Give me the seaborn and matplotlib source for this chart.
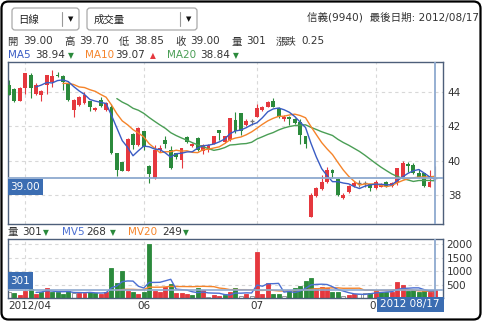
import numpy as np
import pandas as pd
import matplotlib
matplotlib.use("Agg")
import matplotlib.pyplot as plt
import seaborn as sns
from matplotlib.patches import FancyBboxPatch, Rectangle
from matplotlib.transforms import IdentityTransform
from matplotlib.lines import Line2D

# ---------------- data ----------------
opens = [44.40, 44.15, 43.50, 44.20, 45.00, 43.90, 43.80, 44.40, 44.55, 45.00,
         44.95, 44.50, 42.95, 43.25, 43.35, 43.45, 42.95, 43.55, 42.95, 43.15,
         40.43, 39.95, 39.40, 41.55, 40.90, 41.70, 39.70, 38.98, 40.60, 41.20,
         40.62, 40.43, 40.05, 41.40, 40.85, 41.30, 40.58, 40.60, 41.00, 41.80,
         41.10, 41.20, 42.36, 42.75, 42.07, 42.30, 42.56, 42.95, 43.15, 43.45,
         43.05, 42.40, 42.55, 42.45, 42.27, 41.44, 36.75, 37.95, 38.34, 38.74,
         39.46, 38.94, 37.85, 38.20, 38.53, 38.68, 38.68, 38.63, 38.40, 38.50,
         38.74, 38.55, 38.68, 39.07, 39.80, 39.75, 39.27, 39.27, 38.50, 39.00]
closes = [43.85, 43.50, 44.25, 45.10, 44.20, 44.40, 44.05, 45.00, 44.95, 44.90,
          44.60, 43.55, 43.55, 43.70, 43.85, 43.15, 43.08, 43.20, 43.35, 40.43,
          39.46, 39.40, 41.25, 40.90, 41.90, 40.80, 39.20, 40.60, 40.72, 40.95,
          39.55, 40.23, 40.72, 41.10, 41.00, 40.62, 40.90, 40.90, 41.43, 41.63,
          41.43, 42.47, 41.70, 41.70, 42.30, 42.30, 43.05, 43.15, 43.43, 43.13,
          42.56, 42.56, 42.40, 42.20, 41.50, 41.00, 38.00, 38.40, 38.78, 39.46,
          39.27, 38.00, 38.00, 38.55, 38.68, 38.68, 38.68, 38.40, 38.74, 38.65,
          38.53, 38.70, 39.55, 39.85, 39.70, 39.27, 39.07, 38.53, 38.75, 39.00]
highs = [44.70, 44.20, 44.30, 45.10, 45.10, 44.50, 44.10, 45.00, 45.30, 45.15,
         45.00, 44.60, 43.60, 43.75, 44.00, 43.50, 43.10, 43.70, 43.40, 43.30,
         40.45, 39.95, 41.30, 41.60, 41.95, 41.75, 39.75, 40.90, 40.90, 41.45,
         40.85, 40.45, 40.75, 41.45, 41.05, 41.35, 41.00, 41.00, 41.45, 41.80,
         41.45, 42.50, 42.85, 42.75, 42.40, 42.45, 43.30, 43.20, 43.45, 43.63,
         43.10, 42.65, 42.60, 42.50, 42.40, 41.45, 38.15, 38.45, 39.17, 39.63,
         39.50, 38.98, 38.15, 38.60, 38.80, 38.85, 38.80, 38.65, 38.90, 38.70,
         38.80, 38.75, 39.60, 40.00, 39.90, 39.85, 39.50, 39.30, 39.46, 39.70]
lows = [43.80, 43.40, 43.45, 43.90, 43.65, 43.80, 43.45, 43.90, 44.30, 44.85,
        44.10, 43.50, 42.55, 43.20, 43.30, 42.90, 42.90, 43.15, 42.90, 40.40,
        39.10, 39.38, 39.40, 40.70, 40.85, 40.60, 38.70, 38.95, 40.50, 40.75,
        39.50, 40.10, 39.57, 41.05, 40.80, 40.55, 40.40, 40.50, 40.95, 41.20,
        41.05, 41.15, 41.60, 41.50, 42.00, 42.10, 42.55, 42.90, 43.10, 43.10,
        42.50, 42.30, 42.10, 42.15, 41.00, 40.72, 36.75, 37.90, 38.30, 38.70,
        39.00, 37.95, 37.80, 38.15, 38.50, 38.45, 38.50, 38.25, 38.35, 38.45,
        38.50, 38.50, 38.60, 39.05, 39.35, 39.20, 39.00, 38.50, 38.45, 38.85]
volumes = [237, 175, 112, 274, 337, 150, 237, 362, 212, 212,
           150, 274, 187, 187, 187, 212, 187, 150, 237, 1114,
           563, 989, 274, 212, 150, 237, 2029, 274, 237, 425,
           525, 187, 187, 150, 112, 362, 300, 25, 112, 87,
           112, 237, 375, 87, 150, 87, 1719, 150, 563, 150,
           150, 87, 274, 362, 437, 625, 738, 375, 400, 375,
           212, 237, 67, 112, 150, 150, 187, 187, 274, 237,
           237, 237, 590, 488, 274, 300, 240, 260, 239, 301]

price_ticks = [38, 40, 42, 44]
volume_ticks = [500, 1000, 1500, 2000]
month_start_idx = [3, 25, 46, 68]
date_labels = ["2012/04", "06", "07", "0"]
date_label_idx = [None, 25, 46, 68]
cross_price = 39.00
cross_volume = 301
cross_date = "2012 08/17"

header_items = [("開", "39.00"), ("高", "39.70"), ("低", "38.85"),
                ("收", "39.00"), ("量", "301"), ("漲跌", "0.25")]
ma_labels = ["MA5", "MA10", "MA20"]
ma_values = ["38.94", "39.07", "38.84"]
ma_arrows = ["▼", "▲", "▼"]
mv_labels = ["MV5", "MV20"]
mv_values = ["268", "249"]

# ---------------- style ----------------
sns.set_style("white")
plt.rcParams['font.family'] = ['DejaVu Sans', 'Noto Sans CJK TC']

RED = '#e5383e'
GREEN = '#2b8a3c'
GRAY = '#777777'
C_MA5 = '#3a5cc4'
C_MA10 = '#f5842a'
C_MA20 = '#4a9e55'
TXT = '#333333'
SPINE = '#4d5f7a'
CROSS = '#8ea9cf'
BOXC = '#3b6db2'

W, H = 482, 321
fig = plt.figure(figsize=(W / 100, H / 100), dpi=100)
fig.patch.set_facecolor('white')

def fx(x):
    return x / W

def fy(y):
    return 1 - y / H

def ftext(x, y, s, color=TXT, ha='left', size=7.5, **kw):
    fig.text(fx(x), fy(y), s, color=color, ha=ha, va='center', fontsize=size, **kw)

def pbox(x0, y0, x1, y1, r, **kw):
    p = FancyBboxPatch((x0, H - y1), x1 - x0, y1 - y0,
                       boxstyle=f"round,pad=0,rounding_size={r}",
                       transform=IdentityTransform(), **kw)
    fig.add_artist(p)

n = len(closes)
idx = np.arange(n)
df = pd.DataFrame({"i": idx, "open": opens, "close": closes, "high": highs,
                   "low": lows, "vol": volumes})
for w in (5, 10, 20):
    m = df["close"].rolling(w).mean()
    m.iloc[:w] = np.nan
    df[f"MA{w}"] = m
for w in (5, 20):
    m = df["vol"].rolling(w).mean()
    m.iloc[:w] = np.nan
    df[f"MV{w}"] = m

# ---------------- panels ----------------
axm = fig.add_axes([fx(8), fy(224), 435 / W, 162 / H])
axv = fig.add_axes([fx(8), fy(298), 435 / W, 59 / H])
xl = (-0.19, 80.5)

for ax in (axm, axv):
    ax.set_facecolor('white')
    for s in ax.spines.values():
        s.set_color(SPINE)
        s.set_linewidth(1.0)
    ax.set_xlim(*xl)
    ax.set_xticks([])
    ax.yaxis.tick_right()
    ax.tick_params(axis='y', length=0, labelsize=7.5, labelcolor=TXT)
    for m in month_start_idx:
        ax.axvline(m, color='#d8d8d8', lw=0.8, ls=(0, (3, 3)), zorder=0)

axm.set_ylim(36.32, 45.74)
axm.set_yticks(price_ticks)
axm.set_yticklabels([str(t) for t in price_ticks])
axm.tick_params(axis='y', pad=3.5)
for t in price_ticks:
    axm.axhline(t, color='#d8d8d8', lw=0.8, ls=(0, (3, 3)), zorder=0)

bw = 0.72
for _, r in df.iterrows():
    o, c, h, l, i = r["open"], r["close"], r["high"], r["low"], r["i"]
    if c > o:
        col = RED
    elif c < o:
        col = GREEN
    else:
        col = GRAY
    axm.vlines(i, l, h, color=col, lw=0.8, zorder=2)
    if c != o:
        axm.bar(i, abs(c - o), bottom=min(o, c), width=bw, color=col,
                linewidth=0, zorder=3)
    else:
        axm.hlines(c, i - bw / 2, i + bw / 2, color=col, lw=1.0, zorder=3)

for name, col in (("MA20", C_MA20), ("MA10", C_MA10), ("MA5", C_MA5)):
    sns.lineplot(data=df, x="i", y=name, ax=axm, color=col, lw=1.0, zorder=5)
axm.set_xlabel("")
axm.set_ylabel("")
axm.set_xlim(*xl)

axm.axhline(cross_price, color=CROSS, lw=1.3, zorder=6)
axm.axvline(n - 1, color=CROSS, lw=1.3, zorder=6)

# volume
axv.set_ylim(0, 2200)
axv.set_yticks(volume_ticks)
axv.set_yticklabels([str(t) for t in volume_ticks])
axv.tick_params(axis='y', pad=2.5)
for t in volume_ticks:
    axv.axhline(t, color='#d8d8d8', lw=0.8, ls=(0, (3, 3)), zorder=0)

diff = df["close"].diff()
for i in idx:
    d = diff.iloc[i]
    if pd.isna(d) or d == 0:
        fc, ec = 'white', '#888888'
    elif d > 0:
        fc, ec = RED, RED
    else:
        fc, ec = GREEN, GREEN
    axv.bar(i, volumes[i], width=0.74, color=fc, edgecolor=ec, linewidth=0.6, zorder=2)

sns.lineplot(data=df, x="i", y="MV20", ax=axv, color=C_MA10, lw=1.0, zorder=4)
sns.lineplot(data=df, x="i", y="MV5", ax=axv, color='#4b6fd2', lw=1.0, zorder=4)
axv.set_xlabel("")
axv.set_ylabel("")
axv.set_xlim(*xl)
axv.set_ylim(0, 2200)
axv.axhline(cross_volume, color=CROSS, lw=1.2, zorder=6)
axv.axvline(n - 1, color=CROSS, lw=1.3, zorder=6)

# ---------------- decorations ----------------
pbox(1.5, 1.5, 480.5, 319.5, 7, fc='none', ec='black', lw=1.6)

pbox(12, 8, 79, 30, 3, fc='white', ec='#a9a9a9', lw=0.9)
pbox(87, 8, 197, 30, 3, fc='white', ec='#a9a9a9', lw=0.9)
for xs in (62, 180):
    fig.add_artist(Line2D([fx(xs), fx(xs)], [fy(12), fy(26)], color='#999999', lw=0.8,
                          transform=fig.transFigure))
ftext(18, 19.5, "日線", color='#222222', size=7.5)
ftext(94, 19.5, "成交量", color='#222222', size=7.5)
ftext(70.5, 19.5, "▼", color='#111111', ha='center', size=5)
ftext(188.5, 19.5, "▼", color='#111111', ha='center', size=5)

ftext(479, 17, "信義(9940)  最後日期: 2012/08/17", ha='right', size=7.6)

hx = [(7, 23), (64, 79), (119, 134), (175, 190), (231, 246), (276, 301)]
for (lab, val), (x1, x2) in zip(header_items, hx):
    ftext(x1, 41.5, lab)
    ftext(x2, 41.5, val)

ma_pos = [(8, 35, 67.5), (85, 115, 150), (167, 200, 233)]
ma_cols = [C_MA5, C_MA10, C_MA20]
for lab, val, arr, col, (x1, x2, x3) in zip(ma_labels, ma_values, ma_arrows, ma_cols, ma_pos):
    ftext(x1, 55.5, lab, color=col)
    ftext(x2, 55.5, val)
    ftext(x3, 56, arr, color=RED if arr == "▲" else GREEN, size=5.5)

ftext(7, 232, "量")
ftext(22, 232, str(cross_volume))
ftext(43, 232.5, "▼", color=GREEN, size=5.5)
ftext(62, 232, mv_labels[0], color='#4b6fd2')
ftext(86, 232, mv_values[0])
ftext(110, 232.5, "▼", color=GREEN, size=5.5)
ftext(128, 232, mv_labels[1], color=C_MA10)
ftext(162, 232, mv_values[1])
ftext(183, 232.5, "▼", color=GREEN, size=5.5)

ftext(8, 306, date_labels[0])
px_per = (435 - 9) / 79.0
for lab, i in zip(date_labels[1:3], date_label_idx[1:3]):
    ftext(9 + i * px_per, 306, lab, ha='center')
ftext(375.5, 306, date_labels[3], ha='right')

fig.add_artist(Rectangle((fx(7.5), fy(195)), 35.5 / W, 16.5 / H, transform=fig.transFigure,
                         fc=BOXC, ec='none'))
ftext(25.3, 187, f"{cross_price:.2f}", color='white', ha='center')
fig.add_artist(Rectangle((fx(7.5), fy(289)), 25.5 / W, 17 / H, transform=fig.transFigure,
                         fc=BOXC, ec='none'))
ftext(20.3, 280.5, str(cross_volume), color='white', ha='center')
fig.add_artist(Rectangle((fx(376.5), fy(312)), 67 / W, 15 / H, transform=fig.transFigure,
                         fc=BOXC, ec='none'))
ftext(410, 304.5, cross_date, color='white', ha='center')

fig.savefig("out.png", dpi=100)
